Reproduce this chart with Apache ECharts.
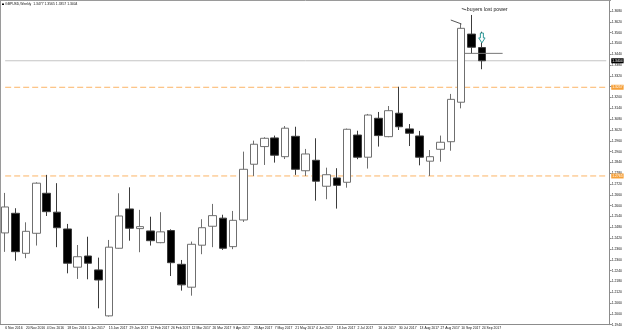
<!DOCTYPE html>
<html>
<head>
<meta charset="utf-8">
<script src="https://cdn.jsdelivr.net/npm/echarts@6/dist/echarts.min.js"></script>
<style>
html, body { margin: 0; padding: 0; background: #fff; }
#chart { width: 625px; height: 332px; }
</style>
</head>
<body>
<div id="chart"></div>
<script>
// GBPUSD weekly bars
const weeks = [
  "6 Nov 2016", "13 Nov 2016", "20 Nov 2016", "27 Nov 2016", "4 Dec 2016", "11 Dec 2016",
  "18 Dec 2016", "25 Dec 2016", "1 Jan 2017", "8 Jan 2017", "15 Jan 2017", "22 Jan 2017",
  "29 Jan 2017", "5 Feb 2017", "12 Feb 2017", "19 Feb 2017", "26 Feb 2017", "5 Mar 2017",
  "12 Mar 2017", "19 Mar 2017", "26 Mar 2017", "2 Apr 2017", "9 Apr 2017", "16 Apr 2017",
  "23 Apr 2017", "30 Apr 2017", "7 May 2017", "14 May 2017", "21 May 2017", "28 May 2017",
  "4 Jun 2017", "11 Jun 2017", "18 Jun 2017", "25 Jun 2017", "2 Jul 2017", "9 Jul 2017",
  "16 Jul 2017", "23 Jul 2017", "30 Jul 2017", "6 Aug 2017", "13 Aug 2017", "20 Aug 2017",
  "27 Aug 2017", "3 Sep 2017", "10 Sep 2017", "17 Sep 2017", "24 Sep 2017"
];
const opens = [
  1.2449, 1.2558, 1.2336, 1.2447, 1.2669, 1.2564, 1.2471, 1.2259, 1.2321, 1.2244,
  1.1989, 1.2364, 1.2582, 1.2473, 1.2460, 1.2395, 1.2462, 1.2275, 1.2148, 1.2381,
  1.2486, 1.2531, 1.2373, 1.2521, 1.2830, 1.2928, 1.2976, 1.2872, 1.2985, 1.2794,
  1.2852, 1.2708, 1.2754, 1.2730, 1.2992, 1.2869, 1.3085, 1.2983, 1.3113, 1.3026,
  1.2987, 1.2847, 1.2913, 1.2955, 1.3174, 1.3552, 1.3477
];
const highs = [
  1.2671, 1.2586, 1.2508, 1.2730, 1.2771, 1.2725, 1.2499, 1.2382, 1.2428, 1.2312,
  1.2410, 1.2669, 1.2702, 1.2577, 1.2539, 1.2564, 1.2469, 1.2299, 1.2401, 1.2525,
  1.2610, 1.2550, 1.2571, 1.2900, 1.2961, 1.2980, 1.2989, 1.3042, 1.3038, 1.2915,
  1.2974, 1.2811, 1.2808, 1.3028, 1.3016, 1.3109, 1.3120, 1.3153, 1.3260, 1.3053,
  1.3015, 1.2909, 1.2989, 1.3220, 1.3613, 1.3658, 1.3565
];
const lows = [
  1.2344, 1.2295, 1.2309, 1.2379, 1.2543, 1.2370, 1.2225, 1.2194, 1.2192, 1.2031,
  1.1985, 1.2362, 1.2406, 1.2342, 1.2379, 1.2392, 1.2210, 1.2129, 1.2101, 1.2331,
  1.2370, 1.2355, 1.2359, 1.2510, 1.2765, 1.2826, 1.2839, 1.2859, 1.2771, 1.2765,
  1.2628, 1.2636, 1.2584, 1.2700, 1.2858, 1.2806, 1.2928, 1.2980, 1.3020, 1.2931,
  1.2824, 1.2765, 1.2844, 1.2905, 1.3140, 1.3445, 1.3357
];
const closes = [
  1.2593, 1.2345, 1.2458, 1.2725, 1.2567, 1.2478, 1.2281, 1.2317, 1.2281, 1.2188,
  1.2370, 1.2543, 1.2475, 1.2484, 1.2406, 1.2455, 1.2284, 1.2161, 1.2386, 1.2478,
  1.2545, 1.2364, 1.2519, 1.2802, 1.2941, 1.2974, 1.2880, 1.3030, 1.2802, 1.2887,
  1.2736, 1.2772, 1.2713, 1.3024, 1.2869, 1.3103, 1.2989, 1.3127, 1.3038, 1.3002,
  1.2869, 1.2872, 1.2952, 1.3190, 1.3584, 1.3479, 1.3404
];
const shiftSlots = 12;            // empty weeks right of the last bar
const levels = [1.3257, 1.2765];  // orange dashed levels
const bid = 1.3404;
const priceMin = 1.1940, priceMax = 1.37355, priceStep = 0.0060;

// drawn objects, in [bar index, price]
const noteText = "buyers lost power";
const noteAt = [44.55, 1.3688];
const noteTick = [[44.06, 1.3694], [44.5, 1.3686]];
const slantLine = [[43.0, 1.3630], [44.03, 1.3608]];
const flatLine = [[44.35, 1.3445], [48.0, 1.3445]];
const arrowAt = [46, 1.3558, 1.3503];

const cats = weeks.concat(Array.from({ length: shiftSlots }, (_, i) => "s" + i));
const bars = weeks.map((w, i) => [opens[i], closes[i], lows[i], highs[i]]);
const showLabel = (idx) => idx % 2 === 0 && idx < weeks.length;
const small = { fontSize: 3.4, fontFamily: "Liberation Sans", color: "#111" };
const lastIdx = cats.length - 1;

const chart = echarts.init(document.getElementById("chart"));

// a horizontal price line across the whole chart, with its price box on the axis
function priceLine(value, color, dash, box) {
  return {
    type: "line", silent: true, symbol: "none", z: 1,
    data: [[0, value], [lastIdx, value]],
    lineStyle: { color: color, type: dash, width: 1, opacity: 1 },
    itemStyle: { color: color },
    endLabel: {
      show: true, distance: 5, padding: [1, 1],
      backgroundColor: box, color: "#fff", fontSize: 3.4, fontFamily: "Liberation Sans",
      formatter: () => value.toFixed(4)
    }
  };
}

chart.setOption({
  animation: false,
  grid: { left: -3.22, top: 1, width: 616.02, bottom: 7.3 },
  xAxis: {
    type: "category",
    data: cats,
    axisLine: { lineStyle: { color: "#8c8c8c" } },
    axisTick: { alignWithLabel: true, interval: showLabel, length: 2, lineStyle: { color: "#8c8c8c" } },
    axisLabel: Object.assign({
      interval: showLabel, align: "left", margin: 2,
      formatter: (v) => (weeks.indexOf(v) >= 0 ? v : "")
    }, small),
    splitLine: { show: false }
  },
  yAxis: {
    type: "value",
    position: "right",
    offset: -1.8,
    min: priceMin,
    max: priceMax,
    interval: priceStep,
    axisLine: { show: true, lineStyle: { color: "#8c8c8c" } },
    axisTick: { show: true, length: 2, lineStyle: { color: "#8c8c8c" } },
    axisLabel: Object.assign({ margin: 2, showMaxLabel: false, formatter: (v) => v.toFixed(4) }, small),
    splitLine: { show: false }
  },
  series: [
    priceLine(bid, "#c4c4c4", "solid", "#000"),
    priceLine(levels[0], "#fcb466", [6, 3], "#f6a13a"),
    priceLine(levels[1], "#fcb466", [6, 3], "#f6a13a"),
    {
      type: "candlestick",
      data: bars,
      barWidth: 8,
      z: 2,
      itemStyle: {
        color: "#fff", color0: "#000",
        borderColor: "#6f6f6f", borderColor0: "#3c3c3c", borderWidth: 1
      }
    }
  ]
});

// map a fractional bar index + price to pixels
function px(i, price) {
  const a = chart.convertToPixel({ gridIndex: 0 }, [0, price]);
  const b = chart.convertToPixel({ gridIndex: 0 }, [1, price]);
  return [a[0] + i * (b[0] - a[0]), a[1]];
}
function seg(pts, color) {
  const p = px(pts[0][0], pts[0][1]), q = px(pts[1][0], pts[1][1]);
  return { type: "line", shape: { x1: p[0], y1: p[1], x2: q[0], y2: q[1] }, style: { stroke: color, lineWidth: 1 }, z: 10 };
}

const arrowTip = px(arrowAt[0], arrowAt[2]);
const arrowTop = px(arrowAt[0], arrowAt[1]);
const cx = arrowTip[0], neck = arrowTip[1] - 5;
const notePos = px(noteAt[0], noteAt[1]);
const bottomY = px(0, priceMin)[1];

chart.setOption({
  graphic: [
    // chart frame (left and top edges)
    { type: "line", shape: { x1: 0.5, y1: 0.5, x2: 0.5, y2: bottomY }, style: { stroke: "#9a9a9a", lineWidth: 1 } },
    { type: "line", shape: { x1: 0, y1: 0.5, x2: 611, y2: 0.5 }, style: { stroke: "#9a9a9a", lineWidth: 1 } },
    { type: "rect", shape: { x: 2, y: 3.6, width: 2, height: 1.4 }, style: { fill: "#000" } },
    {
      type: "text", x: 5, y: 2.5,
      style: {
        text: "GBPUSD,Weekly  " + [opens, highs, lows, closes].map((a) => a[a.length - 1].toFixed(4)).join(" "),
        fill: "#111", font: "3.4px 'Liberation Sans'"
      }
    },
    seg(slantLine, "#555"),
    seg(noteTick, "#555"),
    seg(flatLine, "#777"),
    {
      type: "text", x: notePos[0], y: notePos[1], z: 10,
      style: { text: noteText, fill: "#222", font: "5.2px 'Liberation Sans'", verticalAlign: "middle" }
    },
    {
      type: "polygon", z: 12,
      shape: { points: [
        [cx - 1.5, arrowTop[1]], [cx + 1.5, arrowTop[1]], [cx + 1.5, neck], [cx + 3.2, neck],
        [cx, arrowTip[1]], [cx - 3.2, neck], [cx - 1.5, neck]
      ] },
      style: { fill: "#fff", stroke: "#2f9a9a", lineWidth: 1 }
    }
  ]
});
</script>
</body>
</html>
